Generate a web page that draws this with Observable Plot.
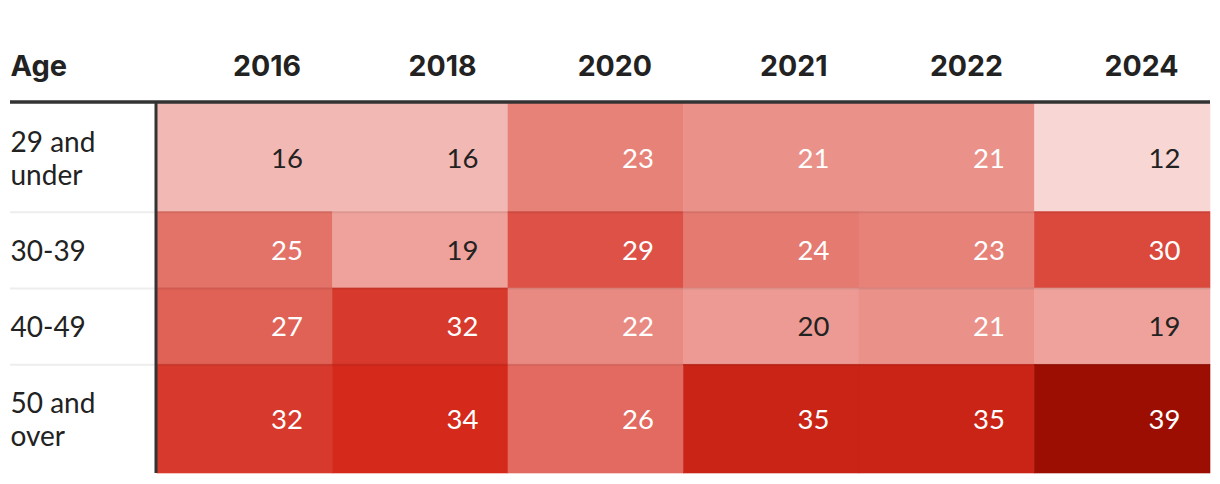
<!DOCTYPE html>
<html>
<head>
<meta charset="utf-8">
<script src="https://cdn.jsdelivr.net/npm/d3@7"></script>
<script src="https://cdn.jsdelivr.net/npm/@observablehq/plot@0.6"></script>
<style>
  html, body { margin: 0; padding: 0; background: #fff; }
  #chart svg { display: block; }
</style>
</head>
<body>
<div id="chart"></div>
<script>
const years = ["2016", "2018", "2020", "2021", "2022", "2024"];
const ageGroups = ["29 and\nunder", "30-39", "40-49", "50 and\nover"];
const s2016 = [16, 25, 27, 32];
const s2018 = [16, 19, 32, 34];
const s2020 = [23, 29, 22, 26];
const s2021 = [21, 24, 20, 35];
const s2022 = [21, 23, 21, 35];
const s2024 = [12, 30, 19, 39];
const series = [s2016, s2018, s2020, s2021, s2022, s2024];

// row extents derived from the number of label lines
let acc = 0;
const rows = ageGroups.map((label, r) => {
  const lines = label.split("\n").length;
  const h = lines * 32.5 + 44;
  const row = {label, r, y1: acc, y2: acc + h, ym: acc + h / 2};
  acc += h;
  return row;
});
const total = acc;

const cells = [];
years.forEach((year, c) => {
  rows.forEach((row, r) => {
    cells.push({year, c, age: row.label, value: series[c][r], y1: row.y1, y2: row.y2, ym: row.ym});
  });
});

const bodyFont = "Lato, 'Noto Sans', sans-serif";
const headFont = "Inter, Roboto, sans-serif";

const chart = Plot.plot({
  width: 1220,
  height: 484,
  marginTop: 103,
  marginBottom: 11,
  marginLeft: 10,
  marginRight: 10,
  style: {background: "#fff", overflow: "visible"},
  x: {type: "linear", domain: [0, years.length], range: [157, 1210], axis: null},
  y: {type: "linear", domain: [0, total], range: [103, 473], axis: null},
  color: {
    type: "linear",
    domain: [10, 20, 34, 39],
    range: ["#fbe5e3", "#ec9a93", "#d4291b", "#9c0e02"],
    interpolate: "rgb"
  },
  marks: [
    Plot.rect(cells, {x1: "c", x2: d => d.c + 1, y1: "y1", y2: "y2", fill: "value", stroke: "value", strokeWidth: 0.6, inset: 0}),
    Plot.ruleY(rows.slice(1), {y: "y1", stroke: "#000", strokeOpacity: 0.07, strokeWidth: 2}),
    Plot.text(cells, {
      x: d => d.c + 1, y: "ym", text: d => String(d.value),
      textAnchor: "end", dx: -30, dy: 1,
      fill: d => d.value > 20 ? "#fff" : "#222",
      fontFamily: bodyFont, fontSize: 27.5, letterSpacing: 2
    }),
    Plot.text(rows, {
      frameAnchor: "left", y: "ym", text: "label",
      textAnchor: "start", lineHeight: 1.18,
      fill: "#222", fontFamily: bodyFont, fontSize: 28, letterSpacing: 0.8
    }),
    Plot.text(years, {
      x: (d, i) => i + 1, frameAnchor: "top", dy: -37, text: d => d,
      textAnchor: "end", lineAnchor: "middle", dx: -32,
      fill: "#222", fontFamily: headFont, fontSize: 28.5, fontWeight: 700
    }),
    Plot.text(["Age"], {
      frameAnchor: "top-left", dy: -37, text: d => d, textAnchor: "start", lineAnchor: "middle",
      fill: "#222", fontFamily: headFont, fontSize: 29, fontWeight: 700
    }),
    Plot.ruleY([0], {stroke: "#333", strokeWidth: 3.5, dy: -1.5}),
    Plot.ruleX([0], {stroke: "#333", strokeWidth: 3, dx: -1.5})
  ]
});
document.getElementById("chart").appendChild(chart);
</script>
</body>
</html>
